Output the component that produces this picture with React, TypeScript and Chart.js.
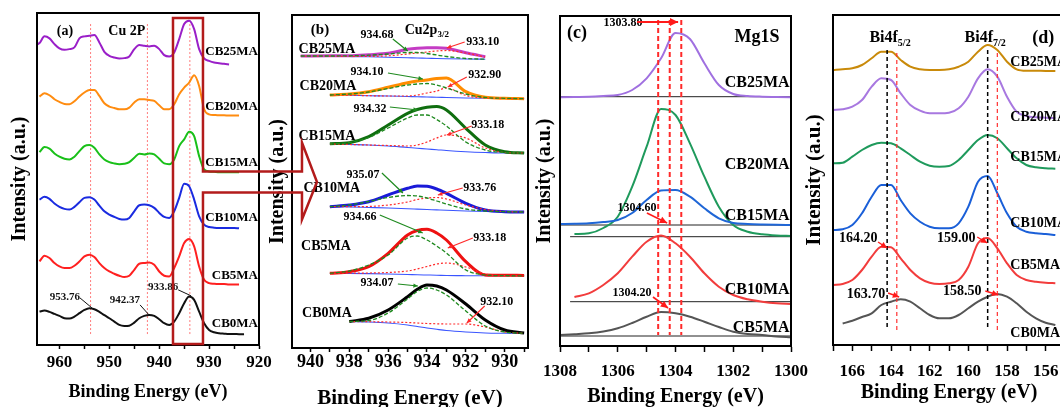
import React, { useEffect, useRef } from 'react';
import { Chart, registerables } from 'chart.js';

Chart.register(...registerables);

const FONT = '"Liberation Serif", "Times New Roman", Times, serif';
const CW = 1080;
const CH = 420;

type Num = number | null;

// ---------------- panel (a): Cu 2p survey ----------------
const A_BE = [965, 964, 963, 962, 961, 960, 959, 958, 957, 956, 955, 954, 953, 952, 951, 950, 949, 948, 947, 946, 945, 944, 943, 942, 941, 940, 939, 938, 937, 936, 935, 934, 933, 932, 931, 930, 929, 928, 927, 926, 925, 924, 923];
const A_CB0MA: Num[] = [null, 33.3, 34.3, 33, 31, 29, 26.7, 26.3, 28.3, 31.7, 35, 36.7, 35.7, 33, 29.7, 26.7, 23.3, 20, 19, 19.3, 22.3, 26.7, 29, 30, 29, 25.7, 21.7, 20, 23.3, 31.7, 41.7, 48.3, 45, 33.3, 21.7, 15, 12.7, 11.7, 11.3, 11, 11, 10.7, 10.7];
const A_CB5MA: Num[] = [null, 83.3, 89, 86.7, 81.7, 78.3, 76.7, 76.7, 79, 83.3, 88.3, 90, 87.7, 81.7, 76.7, 73.3, 71, 69, 67.7, 69, 75, 81, 81.7, 82.3, 80, 73.3, 69, 68.3, 76.7, 88.3, 101.7, 105.7, 98.3, 78.3, 65, 61.7, 61, 60.7, 60.7, 60.3, 60.3, 60.3, null];
const A_CB10MA: Num[] = [null, 145, 147.7, 145.7, 141, 137.7, 135.7, 135, 137.7, 142.3, 146.7, 147.3, 145, 139, 133.3, 130, 127.7, 125.7, 125, 126.7, 133.3, 139.3, 140, 139.3, 136.7, 131.7, 127.7, 126.7, 133.3, 146.7, 160.7, 158.3, 145, 128.3, 120, 117.7, 117, 116.7, 116.7, 116.7, 116.7, 116.3, null];
const A_CB15MA: Num[] = [null, 192.3, 197.3, 195.7, 191, 187.7, 185.7, 185, 187.7, 193.3, 198.3, 199.3, 196.7, 190, 185, 182.3, 181, 180.3, 180.7, 182.3, 186.7, 190.7, 190, 191, 190, 185.7, 181, 180.3, 185, 198.3, 205, 212.7, 208.3, 188.3, 175, 173, 172.7, 172.3, 172.3, 172.3, 172.3, 172.3, null];
const A_CB20MA: Num[] = [null, 247.7, 251, 249, 245, 242.3, 240.3, 240, 243, 247.7, 251.7, 254.3, 254.3, 248.3, 241, 237.7, 236.3, 235, 235, 236.7, 241.7, 245, 245, 244.3, 243.3, 239, 235, 235, 240, 250, 256.7, 261.7, 269, 258.3, 235, 230, 229.3, 229, 229, 228.7, 228.7, 228.7, null];
const A_CB25MA: Num[] = [298.3, 301, 307.7, 305.7, 300, 295.7, 294.3, 295, 296.7, 305.7, 307.7, 308.3, 309, 301.7, 292.3, 288.3, 286.7, 285.7, 286, 287.7, 295, 299, 298.3, 297.7, 298.3, 295, 289, 287.7, 291.7, 305, 320, 323.3, 315, 295, 285.7, 283.3, 281.7, 281, 280.3, 279.7, null, null, null];
const A_PEAKS = [953.76, 942.37, 933.86];
const A_TICKS = [920, 925, 930, 935, 940, 945, 950, 955, 960];

// ---------------- panel (b): Cu 2p3/2 fits ----------------
const B_BE = [940.5, 939, 938, 937, 936, 935, 934.5, 934, 933.5, 933, 932, 931, 930, 929];
const B_CB0MA_ENV: Num[] = [null, null, 26.5, 29.7, 38, 51.3, 58.7, 63, 62, 58, 44, 28, 18, 15];
const B_CB0MA_BG: Num[] = [null, null, 26.5, 26, 25, 23, 21.5, 20, 18.7, 17.5, 16, 15, 14.7, 14.5];
const B_CB0MA_G: Num[] = [null, null, 26.5, 27.5, 35, 49, 56.5, 60, 58, 53, 37, 22, 16, 14.7];
const B_CB0MA_R: Num[] = [null, null, 26.5, 26.3, 26, 25.5, 25, 24.5, 24.2, 24, 24, 21, 16, 14.7];
const B_CB5MA_ENV: Num[] = [null, 74.7, 76.3, 81.3, 94.7, 113, 117.5, 118.7, 115, 108, 86.3, 73, 72.7, 72.6];
const B_CB5MA_BG: Num[] = [null, 74.7, 74.6, 74.4, 74, 73.5, 73.2, 73, 72.8, 72.5, 72.3, 72.2, 72.2, 72.2];
const B_CB5MA_G: Num[] = [null, 74.7, 77, 83, 93, 110, 112, 108, 102, 95, 78, 73, 72.3, 72.2];
const B_CB5MA_R: Num[] = [null, 74.7, 74.8, 75, 75.5, 77, 79, 81.5, 84, 85, 81, 74, 72.3, 72.2];
const B_CB10MA_ENV: Num[] = [null, 141.3, 143, 146.3, 153, 159.7, 162, 161.7, 159, 154.7, 144.7, 138, 136.3, 136];
const B_CB10MA_BG: Num[] = [null, 141.3, 141, 140.5, 140, 139.3, 138.9, 138.5, 138.1, 137.7, 137, 136.5, 136.2, 136];
const B_CB10MA_G: Num[] = [null, 141.3, 143, 146.5, 150.5, 152.5, 152, 150, 147, 144, 139, 137, 136.3, 136];
const B_CB10MA_R: Num[] = [null, 141.3, 141.3, 141.5, 143, 146, 148.5, 150, 150.5, 149, 143, 138.5, 136.5, 136];
const B_CB15MA_ENV: Num[] = [null, 204.3, 205.3, 211.3, 223, 234.7, 238.5, 240.7, 241.5, 238, 219.7, 203, 196.3, 195];
const B_CB15MA_BG: Num[] = [null, 204, 203.5, 203, 202, 200.5, 199.8, 199, 198.3, 197.5, 196.3, 195.5, 195, 195];
const B_CB15MA_G: Num[] = [null, 204, 205.3, 210.5, 220, 230, 233, 233, 228.5, 222, 206, 198, 195.5, 195];
const B_CB15MA_R: Num[] = [null, 204, 203.5, 203, 202.5, 202, 203, 206, 210, 213, 210, 200, 195.5, 195];
const B_CB20MA_ENV: Num[] = [null, 253, 254, 256.3, 260.7, 265.3, 267, 268, 269.5, 270, 256.3, 250.7, 249.7, 249.3];
const B_CB20MA_BG: Num[] = [null, 253, 252.7, 252.3, 252, 251.5, 251.3, 251, 250.8, 250.5, 250, 249.7, 249.5, 249.3];
const B_CB20MA_G: Num[] = [null, 253, 254, 256, 259.5, 263, 264, 264.5, 263, 260, 254, 250.5, 249.7, 249.3];
const B_CB20MA_R: Num[] = [null, 253, 252.7, 252.3, 252, 252, 253, 255, 257, 260, 252.5, 250, 249.5, 249.3];
const B_CB25MA_ENV: Num[] = [292, 292.2, 292.3, 293.3, 294.7, 298.7, 299.8, 300.3, 300.3, 299.7, 295.3, 291.3, null, null];
const B_CB25MA_BG: Num[] = [292, 291.8, 291.5, 291.2, 290.8, 290.3, 290, 289.8, 289.5, 289.3, 289, 288.8, null, null];
const B_CB25MA_G: Num[] = [292, 292, 292.2, 292.8, 294, 295.5, 295.5, 294.5, 293, 291.5, 289.5, 288.8, null, null];
const B_CB25MA_R: Num[] = [292, 291.8, 291.6, 291.6, 292.2, 294, 295, 296, 297, 297.5, 295, 291, null, null];
// fitted peak positions, order CB0MA..CB25MA
const B_GREEN_PEAK = [934.07, 934.66, 935.07, 934.32, 934.10, 934.68];
const B_RED_PEAK = [932.10, 933.18, 933.76, 933.18, 932.90, 933.10];
const B_TICKS = [929, 930, 931, 932, 933, 934, 935, 936, 937, 938, 939, 940];

// ---------------- panel (c): Mg 1s ----------------
const C_BE = [1308, 1307.5, 1307, 1306.5, 1306, 1305.5, 1305, 1304.5, 1304, 1303.5, 1303, 1302.5, 1302, 1301.5, 1301, 1300.5, 1300];
const C_CB5MA: Num[] = [3, 3.8, 4.7, 6.5, 9.7, 15, 21.3, 26, 24.7, 21.3, 16.3, 11, 6.3, 4, 3, 1.5, 0.7];
const C_CB10MA: Num[] = [null, 41, 44.7, 53, 64.7, 81.3, 96.3, 102.5, 94.7, 81.3, 64.7, 51.3, 43, 38.7, 36.3, 34.7, 34];
const C_CB15MA: Num[] = [114, 114.2, 114.7, 116, 118, 125, 138, 147.5, 148, 141.3, 129.7, 119.7, 115, 114, 113.5, 113.2, 113];
const C_CB20MA: Num[] = [null, 104, 104.7, 110, 121.3, 151.3, 191.3, 229, 223, 194.7, 161.3, 131.3, 113, 106.3, 103.7, 102.5, 102];
const C_CB25MA: Num[] = [240.7, 241, 241.3, 242, 243, 248, 259.7, 279.7, 305, 299, 274.7, 253, 244, 242, 241.3, 241, 240.7];
const C_BASE = [2, 36.3, 113, 101.3, 241.3];
const C_BASE_FROM = [1308, 1307.65, 1308, 1307.65, 1308];
const C_SHIFT = [1304.6, 1304.2, 1303.8];
const C_TICKS = [1300, 1301, 1302, 1303, 1304, 1305, 1306, 1307, 1308];

// ---------------- panel (d): Bi 4f ----------------
const D_BE = [167, 166.5, 166, 165.5, 165, 164.5, 164, 163.5, 163, 162.5, 162, 161.5, 161, 160.5, 160, 159.5, 159, 158.5, 158, 157.5, 157, 156.5, 156, 155.5];
const D_CB0MA: Num[] = [null, 16.5, 19.3, 23, 26.7, 35, 38.3, 40.7, 38.3, 31.7, 25, 21.7, 21.7, 25, 31.7, 38.3, 43.3, 46, 43.3, 36.7, 28.3, 21.7, 17.3, 15];
const D_CB5MA: Num[] = [55, 56, 60, 70, 83.3, 93.3, 92.7, 81.7, 70, 61.7, 57.3, 56, 56.7, 60, 73.3, 96.7, 102, 91.7, 76.7, 65, 60, 58.3, 57.3, 56.7];
const D_CB10MA: Num[] = [110, 110.7, 115, 126.7, 143.3, 155, 155, 140, 126.7, 118.3, 113.3, 111.7, 111.7, 116.7, 133.3, 158.3, 164, 146.7, 126.7, 113.3, 108.3, 106.7, 106, 105];
const D_CB15MA: Num[] = [176.7, 177.3, 183.3, 190, 195, 197.3, 196.7, 191.7, 185, 178.3, 174.3, 173.3, 174, 180, 190, 200, 205, 201.7, 191.7, 181.7, 175, 172.7, 171.7, 171.3];
const D_CB20MA: Num[] = [230, 230.7, 233.3, 240, 253.3, 261.7, 260, 246.7, 235, 229.3, 226.7, 226.7, 227.3, 231.7, 243.3, 261.7, 270.7, 263.3, 243.3, 228.3, 224, 222.7, 222.3, 222];
const D_CB25MA: Num[] = [270, 270.7, 271.7, 275, 281.7, 288.3, 288.3, 280, 273.3, 270.7, 270, 270, 270.7, 273.3, 278.3, 288.3, 295, 290, 278.3, 270.7, 269.3, 269.3, 269, 269];
const D_BI_REF = [164.2, 159.0];
const D_BI_SHIFT = [163.7, 158.5];
const D_TICKS = [155, 156, 157, 158, 159, 160, 161, 162, 163, 164, 165, 166, 167];

const SAMPLES = ['CB0MA', 'CB5MA', 'CB10MA', 'CB15MA', 'CB20MA', 'CB25MA'];

// ---------------- helpers ----------------
const pts = (xs: number[], ys: Num[]) => xs.map((x, i) => ({ x, y: ys[i] }));

function series(label: string, xs: number[], ys: Num[], color: string, width = 2, dash: number[] = []) {
  return {
    label,
    data: pts(xs, ys),
    borderColor: color,
    backgroundColor: color,
    borderWidth: width,
    borderDash: dash,
    pointRadius: 0,
    fill: false,
    spanGaps: false,
    cubicInterpolationMode: 'monotone',
  };
}

function txt(ctx: any, s: string, x: number, y: number, size: number, align = 'center', color = '#000', weight = 'bold') {
  ctx.save();
  ctx.font = `${weight} ${size}px ${FONT}`;
  ctx.fillStyle = color;
  ctx.textAlign = align;
  ctx.textBaseline = 'middle';
  ctx.fillText(s, x, y);
  ctx.restore();
}

function subTxt(ctx: any, main: string, sub: string, cx: number, y: number, size: number, subSize: number) {
  ctx.save();
  ctx.font = `bold ${size}px ${FONT}`;
  const w1 = ctx.measureText(main).width;
  ctx.font = `bold ${subSize}px ${FONT}`;
  const w2 = ctx.measureText(sub).width;
  const x0 = cx - (w1 + w2) / 2;
  ctx.fillStyle = '#000';
  ctx.textBaseline = 'middle';
  ctx.textAlign = 'left';
  ctx.font = `bold ${size}px ${FONT}`;
  ctx.fillText(main, x0, y);
  ctx.font = `bold ${subSize}px ${FONT}`;
  ctx.fillText(sub, x0 + w1, y + size * 0.35);
  ctx.restore();
}

function seg(ctx: any, x1: number, y1: number, x2: number, y2: number, color: string, w: number, dash: number[] = []) {
  ctx.save();
  ctx.strokeStyle = color;
  ctx.lineWidth = w;
  ctx.setLineDash(dash);
  ctx.beginPath();
  ctx.moveTo(x1, y1);
  ctx.lineTo(x2, y2);
  ctx.stroke();
  ctx.restore();
}

function arrow(ctx: any, x1: number, y1: number, x2: number, y2: number, color: string, w = 1.2, head = 6) {
  seg(ctx, x1, y1, x2, y2, color, w);
  const a = Math.atan2(y2 - y1, x2 - x1);
  ctx.save();
  ctx.fillStyle = color;
  ctx.beginPath();
  ctx.moveTo(x2, y2);
  ctx.lineTo(x2 - head * Math.cos(a - 0.45), y2 - head * Math.sin(a - 0.45));
  ctx.lineTo(x2 - head * Math.cos(a + 0.45), y2 - head * Math.sin(a + 0.45));
  ctx.closePath();
  ctx.fill();
  ctx.restore();
}

function frame(chart: any) {
  const { ctx, chartArea: a } = chart;
  ctx.save();
  ctx.strokeStyle = '#000';
  ctx.lineWidth = 2;
  ctx.strokeRect(a.left, a.top, a.right - a.left, a.bottom - a.top);
  ctx.restore();
}

function mapper(chart: any) {
  const xs = chart.scales.x;
  const ys = chart.scales.y;
  return { X: (v: number) => xs.getPixelForValue(v), Y: (v: number) => ys.getPixelForValue(v) };
}

type P = {
  L: number; R: number; T: number; B: number; yw: number;
  xmin: number; xmax: number; ymin: number; ymax: number; ticks: number[];
  every: number; tickSize: number; tickPad: number; tickLen: number;
  xTitleSize: number; xTitlePb: number; yTitleSize: number; yTitlePt: number;
};

function options(p: P) {
  return {
    responsive: false,
    maintainAspectRatio: false,
    animation: false,
    devicePixelRatio: 1,
    events: [],
    layout: { padding: { left: p.L - p.yw, right: CW - p.R, top: p.T, bottom: 0 } },
    plugins: { legend: { display: false }, tooltip: { enabled: false }, title: { display: false } },
    scales: {
      x: {
        type: 'linear',
        reverse: true,
        min: p.xmin,
        max: p.xmax,
        afterBuildTicks: (s: any) => { s.ticks = p.ticks.map((v) => ({ value: v })); },
        afterFit: (s: any) => { s.height = CH - p.B; },
        ticks: {
          autoSkip: false,
          maxRotation: 0,
          padding: p.tickPad,
          color: '#000',
          font: { family: FONT, size: p.tickSize, weight: 'bold' },
          callback: (v: any) => {
            const n = Number(v);
            return Math.abs(n / p.every - Math.round(n / p.every)) < 1e-6 ? String(Math.round(n)) : '';
          },
        },
        grid: { display: true, drawOnChartArea: false, drawTicks: true, tickLength: p.tickLen, tickColor: '#000', tickWidth: 1.5 },
        border: { display: true, color: '#000', width: 2 },
        title: {
          display: true,
          text: 'Binding Energy (eV)',
          color: '#000',
          font: { family: FONT, size: p.xTitleSize, weight: 'bold' },
          padding: { top: 0, bottom: p.xTitlePb },
        },
      },
      y: {
        min: p.ymin,
        max: p.ymax,
        afterFit: (s: any) => { s.width = p.yw; },
        ticks: { display: false },
        grid: { display: false, drawTicks: false },
        border: { display: true, color: '#000', width: 2 },
        title: {
          display: true,
          text: 'Intensity (a.u.)',
          color: '#000',
          font: { family: FONT, size: p.yTitleSize, weight: 'bold' },
          padding: { top: p.yTitlePt, bottom: 0 },
        },
      },
    },
  };
}

// ---------------- panel builders ----------------
function makeA() {
  const p: P = { L: 37, R: 259, T: 13, B: 345, yw: 37, xmin: 920, xmax: 964.5, ymin: 0, ymax: 331, ticks: A_TICKS, every: 10, tickSize: 17, tickPad: 3, tickLen: 4, xTitleSize: 18, xTitlePb: 17, yTitleSize: 20, yTitlePt: 8 };
  const datasets = [
    series('CB25MA', A_BE, A_CB25MA, '#9a1fc8'),
    series('CB20MA', A_BE, A_CB20MA, '#ff8c10'),
    series('CB15MA', A_BE, A_CB15MA, '#19c019'),
    series('CB10MA', A_BE, A_CB10MA, '#1a2be0'),
    series('CB5MA', A_BE, A_CB5MA, '#ff2020'),
    series('CB0MA', A_BE, A_CB0MA, '#111111'),
  ];
  return {
    type: 'line',
    data: { datasets },
    options: options(p),
    plugins: [{
      id: 'decoA',
      beforeDatasetsDraw(chart: any) {
        const { ctx } = chart;
        const { X, Y } = mapper(chart);
        A_PEAKS.forEach((e) => seg(ctx, X(e), Y(320), X(e), Y(10), '#ff7b7b', 1, [2, 2]));
      },
      afterDatasetsDraw(chart: any) {
        const { ctx } = chart;
        const { X, Y } = mapper(chart);
        frame(chart);
        txt(ctx, '(a)', X(958.9), Y(313), 14);
        txt(ctx, 'Cu 2P', X(946.5), Y(313), 14);
        const labY = [21, 69, 127, 182, 238, 292];
        SAMPLES.forEach((s, i) => txt(ctx, s, X(920.2), Y(labY[i]), 13, 'right'));
        const lab = [[958.9, 48, 955.9, 47, 953.5, 37], [946.9, 45, 943.85, 40, 942.05, 30], [939.2, 58, 936.2, 55, 933.6, 49]];
        A_PEAKS.forEach((e, i) => {
          const q = lab[i];
          txt(ctx, e.toFixed(2), X(q[0]), Y(q[1]), 11, 'center', '#111', 'bold');
          seg(ctx, X(q[2]), Y(q[3]), X(q[4]), Y(q[5]), '#111', 1);
        });
        // zoom box with outlined arrow towards panel (b)
        const l = X(937.24), r = X(931.23), t = Y(326), b = Y(1), y1 = Y(173), y2 = Y(152);
        const sx = r + 99, tipX = r + 114;
        ctx.save();
        ctx.strokeStyle = '#b31b1b';
        ctx.lineWidth = 2.5;
        ctx.lineJoin = 'miter';
        ctx.beginPath();
        ctx.moveTo(r, y1);
        ctx.lineTo(r, t);
        ctx.lineTo(l, t);
        ctx.lineTo(l, b);
        ctx.lineTo(r, b);
        ctx.lineTo(r, y2);
        ctx.lineTo(sx, y2);
        ctx.lineTo(sx, y2 + 27);
        ctx.lineTo(tipX, (y1 + y2) / 2);
        ctx.lineTo(sx, y1 - 29);
        ctx.lineTo(sx, y1);
        ctx.closePath();
        ctx.stroke();
        ctx.restore();
      },
    }],
  };
}

function makeB() {
  const p: P = { L: 292, R: 528, T: 15, B: 348, yw: 30, xmin: 928.8, xmax: 940.95, ymin: 0, ymax: 333, ticks: B_TICKS, every: 2, tickSize: 18, tickPad: 0, tickLen: 4, xTitleSize: 21, xTitlePb: 9, yTitleSize: 20, yTitlePt: 4 };
  const env = [B_CB0MA_ENV, B_CB5MA_ENV, B_CB10MA_ENV, B_CB15MA_ENV, B_CB20MA_ENV, B_CB25MA_ENV];
  const bg = [B_CB0MA_BG, B_CB5MA_BG, B_CB10MA_BG, B_CB15MA_BG, B_CB20MA_BG, B_CB25MA_BG];
  const gr = [B_CB0MA_G, B_CB5MA_G, B_CB10MA_G, B_CB15MA_G, B_CB20MA_G, B_CB25MA_G];
  const rd = [B_CB0MA_R, B_CB5MA_R, B_CB10MA_R, B_CB15MA_R, B_CB20MA_R, B_CB25MA_R];
  const envColor = ['#000000', '#ee1111', '#1a1ad8', '#0f6e0f', '#ff8c00', '#c43cc4'];
  const datasets: any[] = [];
  SAMPLES.forEach((s, i) => datasets.push(series(s + ' peak 1', B_BE, gr[i], '#1f8a1f', 1.3, [4, 2])));
  SAMPLES.forEach((s, i) => datasets.push(series(s + ' peak 2', B_BE, rd[i], '#ff2a2a', 1.2, [2, 2])));
  SAMPLES.forEach((s, i) => datasets.push(series(s, B_BE, env[i], envColor[i], 3)));
  SAMPLES.forEach((s, i) => datasets.push(series(s + ' background', B_BE, bg[i], '#3a55ff', 1.1)));
  return {
    type: 'line',
    data: { datasets },
    options: options(p),
    plugins: [{
      id: 'decoB',
      afterDatasetsDraw(chart: any) {
        const { ctx } = chart;
        const { X, Y } = mapper(chart);
        frame(chart);
        txt(ctx, '(b)', X(939.51), Y(318), 15);
        subTxt(ctx, 'Cu2p', '3/2', X(934.01), Y(318), 14, 9);
        const labPos = [[939.15, 35], [939.2, 102], [938.9, 160], [939.15, 212], [939.1, 262], [939.15, 299]];
        SAMPLES.forEach((s, i) => txt(ctx, s, X(labPos[i][0]), Y(labPos[i][1]), 14));
        const gPos = [
          [936.58, 65, 935.5, 64, 934.47, 62],
          [937.45, 131, 936.43, 133, 934.22, 115],
          [937.3, 173, 936.32, 175, 935.24, 155],
          [936.94, 239, 935.91, 241, 934.47, 238],
          [937.09, 276, 936.01, 275, 934.21, 269],
          [936.58, 313, 935.76, 309, 934.99, 297],
        ];
        const rPos = [
          [930.41, 46, 931.03, 42, 931.95, 25],
          [930.77, 110, 931.64, 110, 932.93, 100],
          [931.28, 160, 932.16, 160, 933.44, 153],
          [930.87, 223, 931.7, 222, 932.98, 213],
          [931.03, 273, 931.95, 271, 932.93, 261],
          [931.13, 306, 932.06, 306, 932.98, 300],
        ];
        B_GREEN_PEAK.forEach((v, i) => {
          const q = gPos[i];
          txt(ctx, v.toFixed(2), X(q[0]), Y(q[1]), 12);
          arrow(ctx, X(q[2]), Y(q[3]), X(q[4]), Y(q[5]), '#1f8a1f', 1.2, 5);
        });
        B_RED_PEAK.forEach((v, i) => {
          const q = rPos[i];
          txt(ctx, v.toFixed(2), X(q[0]), Y(q[1]), 12);
          arrow(ctx, X(q[2]), Y(q[3]), X(q[4]), Y(q[5]), '#ff2a2a', 1.2, 5);
        });
      },
    }],
  };
}

function makeC() {
  const p: P = { L: 560, R: 791, T: 16, B: 346, yw: 30, xmin: 1300, xmax: 1308, ymin: -8, ymax: 322, ticks: C_TICKS, every: 2, tickSize: 17, tickPad: 9, tickLen: 6, xTitleSize: 20, xTitlePb: 11, yTitleSize: 20, yTitlePt: 3 };
  const curves = [C_CB5MA, C_CB10MA, C_CB15MA, C_CB20MA, C_CB25MA];
  const names = ['CB5MA', 'CB10MA', 'CB15MA', 'CB20MA', 'CB25MA'];
  const colors = ['#555555', '#f23c3c', '#1f66d6', '#1f9a5c', '#a070e0'];
  const datasets: any[] = [];
  names.forEach((s, i) => datasets.push(series(s, C_BE, curves[i], colors[i], 2)));
  names.forEach((s, i) => datasets.push(series(s + ' baseline', [C_BASE_FROM[i], 1300], [C_BASE[i], C_BASE[i]], '#222222', 1)));
  return {
    type: 'line',
    data: { datasets },
    options: options(p),
    plugins: [{
      id: 'decoC',
      afterDatasetsDraw(chart: any) {
        const { ctx } = chart;
        const { X, Y } = mapper(chart);
        C_SHIFT.forEach((e) => seg(ctx, X(e), Y(318), X(e), Y(3), '#ff2a2a', 2, [5, 3]));
        frame(chart);
        txt(ctx, '(c)', X(1307.41), Y(305), 18);
        txt(ctx, 'Mg1S', X(1301.18), Y(301), 18);
        const labY = [10, 48, 122, 173, 255];
        names.forEach((s, i) => txt(ctx, s, X(1300.05), Y(labY[i]), 16, 'right'));
        txt(ctx, C_SHIFT[2].toFixed(2), X(1305.82), Y(315), 12);
        arrow(ctx, X(1305.33), Y(316), X(1303.91), Y(316), '#ff1a1a', 2.2, 9);
        txt(ctx, C_SHIFT[0].toFixed(2), X(1305.33), Y(130), 12);
        arrow(ctx, X(1304.99), Y(125), X(1304.29), Y(115), '#ff1a1a', 1.6, 8);
        txt(ctx, C_SHIFT[1].toFixed(2), X(1305.51), Y(45), 12);
        arrow(ctx, X(1304.78), Y(41), X(1304.26), Y(30), '#ff1a1a', 1.6, 8);
      },
    }],
  };
}

function makeD() {
  const p: P = { L: 833, R: 1065, T: 15, B: 345, yw: 31, xmin: 155, xmax: 167, ymin: -5, ymax: 325, ticks: D_TICKS, every: 2, tickSize: 17, tickPad: 10, tickLen: 6, xTitleSize: 20, xTitlePb: 15, yTitleSize: 21, yTitlePt: 0 };
  const curves = [D_CB0MA, D_CB5MA, D_CB10MA, D_CB15MA, D_CB20MA, D_CB25MA];
  const colors = ['#555555', '#f23c3c', '#1a5fd8', '#1f9a5c', '#a878e0', '#c98a0a'];
  const datasets = SAMPLES.map((s, i) => series(s, D_BE, curves[i], colors[i], 2));
  return {
    type: 'line',
    data: { datasets },
    options: options(p),
    plugins: [{
      id: 'decoD',
      afterDatasetsDraw(chart: any) {
        const { ctx } = chart;
        const { X, Y } = mapper(chart);
        D_BI_REF.forEach((e) => seg(ctx, X(e), Y(290), X(e), Y(12), '#000', 1.5, [4, 3]));
        D_BI_SHIFT.forEach((e) => seg(ctx, X(e), Y(287), X(e), Y(10), '#ff3030', 1.2, [4, 3]));
        frame(chart);
        subTxt(ctx, 'Bi4f', '5/2', X(164.05), Y(302), 16, 10);
        subTxt(ctx, 'Bi4f', '7/2', X(159.13), Y(302), 16, 10);
        txt(ctx, '(d)', X(156.12), Y(302), 18);
        const labY = [7, 75, 117, 183, 223, 278];
        SAMPLES.forEach((s, i) => txt(ctx, s, X(157.83), Y(labY[i]), 14, 'left'));
        txt(ctx, D_BI_REF[0].toFixed(2), X(165.7), Y(102), 14);
        arrow(ctx, X(164.67), Y(98), X(164.2), Y(92), '#ff1a1a', 1.4, 7);
        txt(ctx, D_BI_REF[1].toFixed(2), X(160.63), Y(102), 14);
        arrow(ctx, X(159.54), Y(103), X(159.02), Y(97), '#ff1a1a', 1.4, 7);
        txt(ctx, D_BI_SHIFT[0].toFixed(2), X(165.29), Y(46), 14);
        arrow(ctx, X(164.15), Y(47), X(163.58), Y(43), '#ff1a1a', 1.4, 7);
        txt(ctx, D_BI_SHIFT[1].toFixed(2), X(160.32), Y(49), 14);
        arrow(ctx, X(159.12), Y(49), X(158.45), Y(45), '#ff1a1a', 1.4, 7);
      },
    }],
  };
}

function ChartCanvas({ make }: { make: () => any }) {
  const ref = useRef<HTMLCanvasElement | null>(null);
  useEffect(() => {
    if (!ref.current) return;
    const chart = new Chart(ref.current, make() as any);
    return () => chart.destroy();
  }, []);
  return (
    <canvas
      ref={ref}
      width={CW}
      height={CH}
      style={{ position: 'absolute', left: 0, top: 0, width: CW, height: CH }}
    />
  );
}

export default function App() {
  return (
    <div style={{ position: 'fixed', left: 0, top: 0, width: 1060, height: 407, overflow: 'hidden', background: '#fff' }}>
      <ChartCanvas make={makeB} />
      <ChartCanvas make={makeC} />
      <ChartCanvas make={makeD} />
      <ChartCanvas make={makeA} />
    </div>
  );
}
